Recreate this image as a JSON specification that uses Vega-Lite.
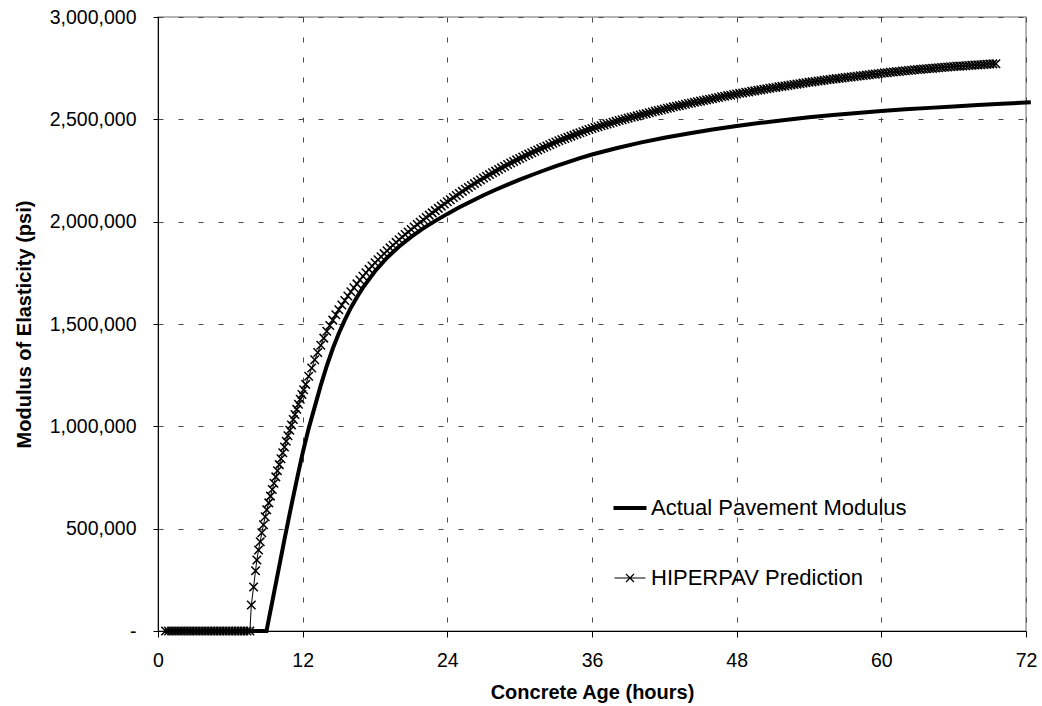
{
  "$schema": "https://vega.github.io/schema/vega-lite/v6.json",
  "autosize": {"type": "none"},
  "width": 868,
  "height": 614,
  "padding": {"left": 158, "top": 17, "right": 16, "bottom": 75},
  "background": "white",
  "datasets": {
    "act": [
      {"t":0.5,"v":0},{"t":9.0,"v":0},{"t":9.25,"v":75000},{"t":9.5,"v":150000},{"t":10,"v":300000},{"t":10.5,"v":450000},{"t":11,"v":595000},{"t":11.5,"v":735000},{"t":12,"v":870000},{"t":12.5,"v":990000},{"t":13,"v":1095000},{"t":13.5,"v":1200000},{"t":14,"v":1295000},{"t":14.5,"v":1380000},{"t":15,"v":1455000},{"t":15.5,"v":1520000},{"t":16,"v":1580000},{"t":16.5,"v":1631000},{"t":17,"v":1678000},{"t":18,"v":1758000},{"t":19,"v":1824000},{"t":20,"v":1879000},{"t":21,"v":1926000},{"t":22,"v":1967000},{"t":23,"v":2004000},{"t":24,"v":2038000},{"t":25,"v":2070000},{"t":26,"v":2100000},{"t":27,"v":2129000},{"t":28,"v":2156000},{"t":29,"v":2181000},{"t":30,"v":2205000},{"t":31,"v":2228000},{"t":32,"v":2250000},{"t":33,"v":2271000},{"t":34,"v":2291000},{"t":35,"v":2310000},{"t":36,"v":2328000},{"t":38,"v":2359000},{"t":40,"v":2386000},{"t":42,"v":2410000},{"t":44,"v":2431000},{"t":46,"v":2450000},{"t":48,"v":2467000},{"t":50,"v":2483000},{"t":52,"v":2497000},{"t":54,"v":2510000},{"t":56,"v":2521000},{"t":58,"v":2531000},{"t":60,"v":2541000},{"t":62,"v":2549000},{"t":64,"v":2556000},{"t":66,"v":2563000},{"t":68,"v":2570000},{"t":70,"v":2576000},{"t":72,"v":2582000},{"t":72.4,"v":2583000}
    ],
    "hip": [
      {"t":0.625,"v":0},{"t":0.875,"v":0},{"t":1.125,"v":0},{"t":1.375,"v":0},{"t":1.625,"v":0},{"t":1.875,"v":0},{"t":2.125,"v":0},{"t":2.375,"v":0},{"t":2.625,"v":0},{"t":2.875,"v":0},{"t":3.125,"v":0},{"t":3.375,"v":0},{"t":3.625,"v":0},{"t":3.875,"v":0},{"t":4.125,"v":0},{"t":4.375,"v":0},{"t":4.625,"v":0},{"t":4.875,"v":0},{"t":5.125,"v":0},{"t":5.375,"v":0},{"t":5.625,"v":0},{"t":5.875,"v":0},{"t":6.125,"v":0},{"t":6.375,"v":0},{"t":6.625,"v":0},{"t":6.875,"v":0},{"t":7.125,"v":0},{"t":7.375,"v":0},{"t":7.625,"v":0},
      {"t":7.74,"v":127000},{"t":7.93,"v":215000},{"t":8.09,"v":294000},{"t":8.2,"v":347000},{"t":8.34,"v":396000},{"t":8.48,"v":436000},{"t":8.61,"v":480000},{"t":8.75,"v":519000},{"t":8.89,"v":558000},{"t":9.02,"v":592000},{"t":9.19,"v":626000},{"t":9.33,"v":659000},{"t":9.48,"v":691000},{"t":9.62,"v":722000},{"t":9.77,"v":753000},{"t":9.91,"v":783000},{"t":10.06,"v":813000},{"t":10.2,"v":842000},{"t":10.35,"v":871000},{"t":10.49,"v":899000},{"t":10.64,"v":927000},{"t":10.78,"v":954000},{"t":10.93,"v":981000},{"t":11.07,"v":1007000},{"t":11.22,"v":1033000},{"t":11.36,"v":1058000},{"t":11.51,"v":1083000},{"t":11.65,"v":1108000},{"t":11.8,"v":1132000},{"t":11.94,"v":1156000},{"t":12.08,"v":1179000},
      {"t":12.25,"v":1205000},{"t":12.5,"v":1245000},{"t":12.75,"v":1285000},{"t":13,"v":1325000},
      {"t":13.25,"v":1361000},{"t":13.5,"v":1396000},{"t":13.75,"v":1431000},{"t":14,"v":1465000},
      {"t":14.25,"v":1493000},{"t":14.5,"v":1519000},{"t":14.75,"v":1545000},{"t":15,"v":1570000},
      {"t":15.25,"v":1593000},{"t":15.5,"v":1615000},{"t":15.75,"v":1637000},{"t":16,"v":1658000},
      {"t":16.25,"v":1677000},{"t":16.5,"v":1696000},{"t":16.75,"v":1715000},{"t":17,"v":1733000},
      {"t":17.25,"v":1750000},{"t":17.5,"v":1767000},{"t":17.75,"v":1783000},{"t":18,"v":1799000},
      {"t":18.25,"v":1814000},{"t":18.5,"v":1829000},{"t":18.75,"v":1844000},{"t":19,"v":1858000},
      {"t":19.25,"v":1872000},{"t":19.5,"v":1885000},{"t":19.75,"v":1899000},{"t":20,"v":1912000},
      {"t":20.25,"v":1925000},{"t":20.5,"v":1937000},{"t":20.75,"v":1950000},{"t":21,"v":1962000},
      {"t":21.25,"v":1974000},{"t":21.5,"v":1986000},{"t":21.75,"v":1997000},{"t":22,"v":2009000},
      {"t":22.25,"v":2020000},{"t":22.5,"v":2032000},{"t":22.75,"v":2043000},{"t":23,"v":2054000},
      {"t":23.25,"v":2065000},{"t":23.5,"v":2076000},{"t":23.75,"v":2086000},{"t":24,"v":2097000},
      {"t":24.25,"v":2107000},{"t":24.5,"v":2118000},{"t":24.75,"v":2128000},{"t":25,"v":2138000},
      {"t":25.25,"v":2148000},{"t":25.5,"v":2158000},{"t":25.75,"v":2167000},{"t":26,"v":2177000},
      {"t":26.25,"v":2186000},{"t":26.5,"v":2195000},{"t":26.75,"v":2204000},{"t":27,"v":2213000},
      {"t":27.25,"v":2222000},{"t":27.5,"v":2230000},{"t":27.75,"v":2239000},{"t":28,"v":2247000},
      {"t":28.25,"v":2255000},{"t":28.5,"v":2263000},{"t":28.75,"v":2271000},{"t":29,"v":2279000},
      {"t":29.25,"v":2287000},{"t":29.5,"v":2294000},{"t":29.75,"v":2302000},{"t":30,"v":2309000},
      {"t":30.25,"v":2316000},{"t":30.5,"v":2323000},{"t":30.75,"v":2330000},{"t":31,"v":2337000},
      {"t":31.25,"v":2344000},{"t":31.5,"v":2350000},{"t":31.75,"v":2357000},{"t":32,"v":2364000},
      {"t":32.25,"v":2370000},{"t":32.5,"v":2376000},{"t":32.75,"v":2383000},{"t":33,"v":2389000},
      {"t":33.25,"v":2395000},{"t":33.5,"v":2401000},{"t":33.75,"v":2406000},{"t":34,"v":2412000},
      {"t":34.25,"v":2418000},{"t":34.5,"v":2423000},{"t":34.75,"v":2429000},{"t":35,"v":2434000},
      {"t":35.25,"v":2439000},{"t":35.5,"v":2445000},{"t":35.75,"v":2450000},{"t":36,"v":2455000},
      {"t":36.25,"v":2460000},{"t":36.5,"v":2464000},{"t":36.75,"v":2469000},{"t":37,"v":2473000},
      {"t":37.25,"v":2477000},{"t":37.5,"v":2481000},{"t":37.75,"v":2486000},{"t":38,"v":2490000},
      {"t":38.25,"v":2494000},{"t":38.5,"v":2498000},{"t":38.75,"v":2502000},{"t":39,"v":2506000},
      {"t":39.25,"v":2510000},{"t":39.5,"v":2513000},{"t":39.75,"v":2517000},{"t":40,"v":2521000},
      {"t":40.25,"v":2525000},{"t":40.5,"v":2528000},{"t":40.75,"v":2532000},{"t":41,"v":2536000},
      {"t":41.25,"v":2540000},{"t":41.5,"v":2543000},{"t":41.75,"v":2547000},{"t":42,"v":2550000},
      {"t":42.25,"v":2554000},{"t":42.5,"v":2557000},{"t":42.75,"v":2561000},{"t":43,"v":2564000},
      {"t":43.25,"v":2567000},{"t":43.5,"v":2570000},{"t":43.75,"v":2574000},{"t":44,"v":2577000},
      {"t":44.25,"v":2580000},{"t":44.5,"v":2583000},{"t":44.75,"v":2586000},{"t":45,"v":2589000},
      {"t":45.25,"v":2592000},{"t":45.5,"v":2595000},{"t":45.75,"v":2598000},{"t":46,"v":2601000},
      {"t":46.25,"v":2604000},{"t":46.5,"v":2607000},{"t":46.75,"v":2610000},{"t":47,"v":2613000},
      {"t":47.25,"v":2616000},{"t":47.5,"v":2618000},{"t":47.75,"v":2621000},{"t":48,"v":2624000},
      {"t":48.25,"v":2627000},{"t":48.5,"v":2629000},{"t":48.75,"v":2632000},{"t":49,"v":2634000},
      {"t":49.25,"v":2637000},{"t":49.5,"v":2639000},{"t":49.75,"v":2642000},{"t":50,"v":2644000},
      {"t":50.25,"v":2647000},{"t":50.5,"v":2649000},{"t":50.75,"v":2652000},{"t":51,"v":2654000},
      {"t":51.25,"v":2656000},{"t":51.5,"v":2659000},{"t":51.75,"v":2661000},{"t":52,"v":2663000},
      {"t":52.25,"v":2665000},{"t":52.5,"v":2668000},{"t":52.75,"v":2670000},{"t":53,"v":2672000},
      {"t":53.25,"v":2674000},{"t":53.5,"v":2677000},{"t":53.75,"v":2679000},{"t":54,"v":2681000},
      {"t":54.25,"v":2683000},{"t":54.5,"v":2685000},{"t":54.75,"v":2687000},{"t":55,"v":2689000},
      {"t":55.25,"v":2691000},{"t":55.5,"v":2693000},{"t":55.75,"v":2695000},{"t":56,"v":2697000},
      {"t":56.25,"v":2699000},{"t":56.5,"v":2700000},{"t":56.75,"v":2702000},{"t":57,"v":2704000},
      {"t":57.25,"v":2706000},{"t":57.5,"v":2707000},{"t":57.75,"v":2709000},{"t":58,"v":2711000},
      {"t":58.25,"v":2713000},{"t":58.5,"v":2714000},{"t":58.75,"v":2716000},{"t":59,"v":2718000},
      {"t":59.25,"v":2720000},{"t":59.5,"v":2721000},{"t":59.75,"v":2723000},{"t":60,"v":2725000},
      {"t":60.25,"v":2727000},{"t":60.5,"v":2728000},{"t":60.75,"v":2730000},{"t":61,"v":2731000},
      {"t":61.25,"v":2733000},{"t":61.5,"v":2734000},{"t":61.75,"v":2736000},{"t":62,"v":2737000},
      {"t":62.25,"v":2739000},{"t":62.5,"v":2740000},{"t":62.75,"v":2742000},{"t":63,"v":2743000},
      {"t":63.25,"v":2744000},{"t":63.5,"v":2746000},{"t":63.75,"v":2747000},{"t":64,"v":2748000},
      {"t":64.25,"v":2749000},{"t":64.5,"v":2751000},{"t":64.75,"v":2752000},{"t":65,"v":2753000},
      {"t":65.25,"v":2754000},{"t":65.5,"v":2756000},{"t":65.75,"v":2757000},{"t":66,"v":2758000},
      {"t":66.25,"v":2759000},{"t":66.5,"v":2760000},{"t":66.75,"v":2761000},{"t":67,"v":2762000},
      {"t":67.25,"v":2763000},{"t":67.5,"v":2764000},{"t":67.75,"v":2765000},{"t":68,"v":2766000},
      {"t":68.25,"v":2767000},{"t":68.5,"v":2768000},{"t":68.75,"v":2769000},{"t":69,"v":2770000},
      {"t":69.25,"v":2771000},{"t":69.5,"v":2772000}
    ]
  },
  "encoding": {
    "x": {
      "field": "t", "type": "quantitative",
      "scale": {"domain": [0, 72], "nice": false, "zero": false},
      "axis": {
        "values": [0, 12, 24, 36, 48, 60, 72],
        "title": "Concrete Age (hours)",
        "titleX": 434, "titleY": 67, "titleAlign": "center", "titleBaseline": "alphabetic",
        "tickSize": 6, "labelPadding": 14
      }
    },
    "y": {
      "field": "v", "type": "quantitative",
      "scale": {"domain": [0, 3000000], "nice": false},
      "axis": {
        "values": [0, 500000, 1000000, 1500000, 2000000, 2500000, 3000000],
        "labelExpr": "datum.value === 0 ? '-' : format(datum.value, ',')",
        "title": "Modulus of Elasticity (psi)",
        "titleX": -128, "titleY": 307, "titleAngle": 270, "titleAlign": "center", "titleBaseline": "alphabetic",
        "tickSize": 5, "labelPadding": 17
      }
    }
  },
  "layer": [
    {
      "data": {"name": "act"},
      "mark": {"type": "line", "strokeWidth": 4, "strokeCap": "butt", "clip": false},
      "encoding": {
        "color": {
          "datum": "Actual Pavement Modulus",
          "type": "nominal",
          "scale": {"domain": ["Actual Pavement Modulus", "HIPERPAV Prediction"], "range": ["black", "black"]},
          "legend": {
            "title": null,
            "orient": "none",
            "legendX": 461,
            "legendY": 480,
            "padding": 0,
            "rowPadding": 48,
            "labelOffset": 10,
            "labelFontSize": 22,
            "labelLimit": 500,
            "labelFont": "Liberation Sans",
            "labelColor": "black",
            "labelBaseline": "middle",
            "symbolSize": 1089,
            "symbolType": "stroke",
            "encode": {
              "symbols": {
                "update": {
                  "shape": {"signal": "datum.value === 'HIPERPAV Prediction' ? 'M-0.94,0L0.94,0M-0.24,-0.24L0.24,0.24M-0.24,0.24L0.24,-0.24' : 'M-1,0L1,0'"},
                  "strokeWidth": {"signal": "datum.value === 'HIPERPAV Prediction' ? 1.2 : 4"},
                  "stroke": {"value": "black"},
                  "fill": {"value": "transparent"},
                  "opacity": {"value": 1}
                }
              }
            }
          }
        }
      }
    },
    {
      "data": {"name": "hip"},
      "mark": {"type": "line", "strokeWidth": 1},
      "encoding": {
        "color": {"datum": "HIPERPAV Prediction", "type": "nominal"}
      }
    },
    {
      "data": {"name": "hip"},
      "mark": {"type": "point", "shape": "M-1,-1L1,1M-1,1L1,-1", "size": 72, "filled": false, "strokeWidth": 1.5, "color": "black", "opacity": 1},
      "encoding": {}
    }
  ],
  "config": {
    "font": "Liberation Sans",
    "view": {"stroke": "#9c9c9c", "strokeWidth": 1.5},
    "axis": {
      "grid": true,
      "gridColor": "#4a4a4a",
      "gridDash": [5, 15],
      "gridWidth": 1,
      "domainColor": "black",
      "domainWidth": 1,
      "tickColor": "black",
      "tickWidth": 1,
      "labelFont": "Liberation Sans",
      "labelFontSize": 19.5,
      "labelColor": "black",
      "labelFlush": false,
      "labelOverlap": false,
      "titleFont": "Liberation Sans",
      "titleFontSize": 20,
      "titleFontWeight": "bold",
      "titleColor": "black"
    }
  }
}
